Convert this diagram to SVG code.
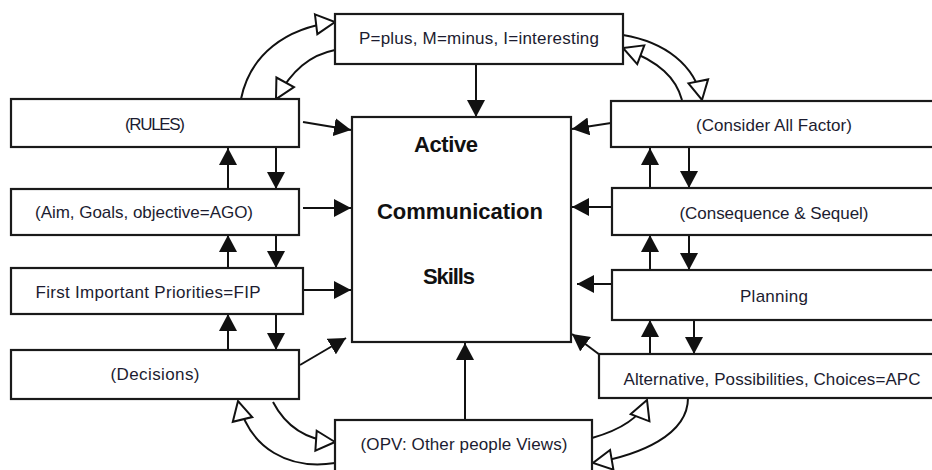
<svg xmlns="http://www.w3.org/2000/svg" width="932" height="470" viewBox="0 0 932 470">
<defs>
<style>
.box{fill:#fff;stroke:#1a1a1a;stroke-width:2.2}
.t{font-family:"Liberation Sans",Arial,sans-serif;font-size:17px;fill:#1c1c30;text-anchor:middle}
.b{font-family:"Liberation Sans",Arial,sans-serif;font-size:22px;font-weight:bold;fill:#111;text-anchor:middle}
.ln{fill:none;stroke:#111;stroke-width:2;marker-end:url(#ah)}
.cv{fill:none;stroke:#111;stroke-width:2;marker-end:url(#oh)}
</style>
<marker id="ah" markerUnits="userSpaceOnUse" markerWidth="18" markerHeight="18" refX="17" refY="9" orient="auto">
<path d="M0,0 L17,9 L0,18 Z" fill="#111"/>
</marker>
<marker id="oh" markerUnits="userSpaceOnUse" markerWidth="24" markerHeight="26" refX="21" refY="12" orient="auto">
<path d="M2,2 L21,12 L2,22 Z" fill="#fff" stroke="#111" stroke-width="2"/>
</marker>
</defs>
<rect width="932" height="470" fill="#fff"/>

<g id="connectors">
<line class="ln" x1="476" y1="64" x2="476" y2="117"/>
<line class="ln" x1="465" y1="420" x2="465" y2="343"/>
<line class="ln" x1="303" y1="122" x2="351" y2="130"/>
<line class="ln" x1="303" y1="208" x2="351" y2="208"/>
<line class="ln" x1="303" y1="290" x2="351" y2="290"/>
<line class="ln" x1="300" y1="365" x2="346" y2="338"/>
<line class="ln" x1="611" y1="123" x2="572" y2="129"/>
<line class="ln" x1="611" y1="207" x2="572" y2="207"/>
<line class="ln" x1="611" y1="284" x2="577" y2="284"/>
<line class="ln" x1="600" y1="355" x2="572" y2="334"/>
<line class="ln" x1="228" y1="189" x2="228" y2="148"/>
<line class="ln" x1="276" y1="148" x2="276" y2="189"/>
<line class="ln" x1="228" y1="268" x2="228" y2="235"/>
<line class="ln" x1="276" y1="235" x2="276" y2="268"/>
<line class="ln" x1="228" y1="350" x2="228" y2="314"/>
<line class="ln" x1="276" y1="314" x2="276" y2="350"/>
<line class="ln" x1="650" y1="188" x2="650" y2="148"/>
<line class="ln" x1="689" y1="148" x2="689" y2="188"/>
<line class="ln" x1="650" y1="270" x2="650" y2="235"/>
<line class="ln" x1="689" y1="235" x2="689" y2="270"/>
<line class="ln" x1="650" y1="354" x2="650" y2="320"/>
<line class="ln" x1="694" y1="320" x2="694" y2="354"/>
<path class="cv" d="M241,99 C250,55 285,28 335,22"/>
<path class="cv" d="M335,50 C310,55 292,70 276,99"/>
<path class="cv" d="M623,35 C665,42 695,65 702,100"/>
<path class="cv" d="M682,100 C676,78 660,62 623,48"/>
<path class="cv" d="M273,402 C285,425 305,440 335,442"/>
<path class="cv" d="M335,463 C290,470 250,450 238,401"/>
<path class="cv" d="M592,438 C620,430 640,418 647,400"/>
<path class="cv" d="M688,398 C688,435 640,455 593,463"/>
</g>

<g id="center">
<rect class="box" x="352" y="117" width="219" height="225"/>
<text class="b" x="446" y="152" textLength="64">Active</text>
<text class="b" x="460" y="219" textLength="166">Communication</text>
<text class="b" x="449" y="284" textLength="52">Skills</text>
</g>

<g id="pmi">
<rect class="box" x="335" y="14" width="288" height="50"/>
<text class="t" x="479" y="44" textLength="240">P=plus, M=minus, I=interesting</text>
</g>

<g id="rules">
<rect class="box" x="11" y="99" width="288" height="48"/>
<text class="t" x="155" y="130" textLength="60">(RULES)</text>
</g>
<g id="ago">
<rect class="box" x="11" y="189" width="288" height="46"/>
<text class="t" x="144" y="218" textLength="218">(Aim, Goals, objective=AGO)</text>
</g>
<g id="fip">
<rect class="box" x="11" y="268" width="292" height="46"/>
<text class="t" x="148" y="298" textLength="225">First Important Priorities=FIP</text>
</g>
<g id="decisions">
<rect class="box" x="11" y="350" width="288" height="49"/>
<text class="t" x="155" y="380" textLength="89">(Decisions)</text>
</g>

<g id="caf">
<rect class="box" x="611" y="101" width="330" height="46"/>
<text class="t" x="774" y="131" textLength="156">(Consider All Factor)</text>
</g>
<g id="consequence">
<rect class="box" x="612" y="188" width="330" height="47"/>
<text class="t" x="774" y="219" textLength="189">(Consequence &amp; Sequel)</text>
</g>
<g id="planning">
<rect class="box" x="612" y="270" width="330" height="50"/>
<text class="t" x="774" y="302" textLength="68">Planning</text>
</g>
<g id="apc">
<rect class="box" x="599" y="354" width="342" height="44"/>
<text class="t" x="772" y="385" textLength="297">Alternative, Possibilities, Choices=APC</text>
</g>

<g id="opv">
<rect class="box" x="335" y="420" width="257" height="60"/>
<text class="t" x="464" y="450" textLength="207">(OPV: Other people Views)</text>
</g>
</svg>
